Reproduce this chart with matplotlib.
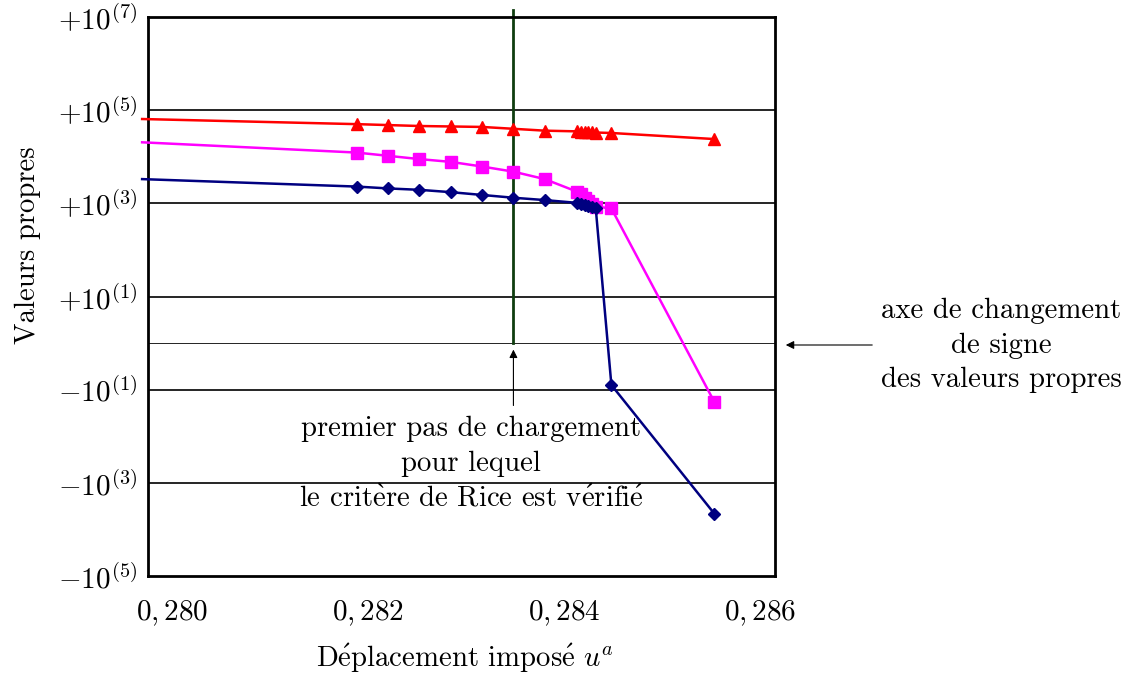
import matplotlib.pyplot as plt

plt.rcParams['font.family'] = ['cmr10', 'DejaVu Serif']
plt.rcParams['mathtext.fontset'] = 'cm'
plt.rcParams['axes.unicode_minus'] = False

# imposed displacement (first value lies just left of the frame, no marker)
u = [0.27969, 0.28188, 0.2822, 0.28252, 0.28284, 0.28316, 0.28348, 0.2838,
     0.28413, 0.28417, 0.28421, 0.28424, 0.28428, 0.28432, 0.28448, 0.28553]

# eigenvalues, stored as sign(v) * log10(|v|)
val_red = [4.81, 4.70, 4.68, 4.66, 4.65, 4.64, 4.60, 4.56,
           4.545, 4.54, 4.535, 4.53, 4.525, 4.52, 4.51, 4.38]
val_pink = [4.31, 4.09, 4.02, 3.95, 3.89, 3.79, 3.68, 3.52,
            3.25, 3.19, 3.12, 3.06, 2.99, 2.93, 2.89, -1.26]
val_blue = [3.52, 3.36, 3.32, 3.29, 3.24, 3.18, 3.12, 3.07,
            3.01, 2.99, 2.97, 2.95, 2.93, 2.90, -0.90, -3.66]

u_rice = 0.28348

y_ticks = [7, 5, 3, 1, -1, -3, -5]
y_labels = ['$+10^{(7)}$', '$+10^{(5)}$', '$+10^{(3)}$', '$+10^{(1)}$',
            '$-10^{(1)}$', '$-10^{(3)}$', '$-10^{(5)}$']
x_ticks = [0.280, 0.282, 0.284, 0.286]
x_labels = ['$0,280$', '$0,282$', '$0,284$', '$0,286$']

fig = plt.figure(figsize=(11.28, 6.75), dpi=100)
ax = fig.add_axes([148 / 1128, 1 - 576 / 675, 627 / 1128, 559 / 675])

ax.set_xlim(0.27975, 0.28615)
ax.set_ylim(-5, 7)

for t in [5, 3, 1, -1, -3]:
    ax.axhline(t, color='black', lw=1.2, zorder=1)
ax.axhline(0, color='black', lw=0.6, zorder=1)

marks = list(range(1, len(u)))
ax.plot(u, val_red, color='#ff0000', lw=1.8, marker='^', markersize=9,
        markevery=marks, clip_on=False, zorder=3)
ax.plot(u, val_pink, color='#ff00ff', lw=1.8, marker='s', markersize=8,
        markevery=marks, clip_on=False, zorder=3)
ax.plot(u, val_blue, color='#000080', lw=1.8, marker='D', markersize=6,
        markevery=marks, clip_on=False, zorder=3)

ax.plot([u_rice, u_rice], [0, 7.15], color='#0f3d0f', lw=2, clip_on=False, zorder=2)

ax.set_yticks(y_ticks)
ax.set_yticklabels(y_labels, fontsize=21)
ax.set_xticks(x_ticks)
ax.set_xticklabels(x_labels, fontsize=21)
ax.tick_params(axis='y', length=0, pad=8)
ax.tick_params(axis='x', length=0, pad=16)
for s in ax.spines.values():
    s.set_linewidth(2)

fs = 20.7
fig.text(28 / 1128, 1 - 245 / 675, 'Valeurs propres', rotation=90,
         ha='center', va='center', fontsize=fs)
fig.text(465 / 1128, 1 - 658 / 675,
         r'D$\acute{\mathrm{e}}$placement impos$\acute{\mathrm{e}}$ $u^a$',
         ha='center', va='center', fontsize=fs)

# annotation: first load step satisfying Rice criterion
ax.annotate('', xy=(u_rice, -0.08), xytext=(u_rice, -1.4),
            arrowprops=dict(arrowstyle='-|>', color='black', lw=0.8,
                            mutation_scale=12))
lines_rice = ['premier pas de chargement', 'pour lequel',
              r'le crit$\grave{\mathrm{e}}$re de Rice est v$\acute{\mathrm{e}}$rifi$\acute{\mathrm{e}}$']
for i, txt in enumerate(lines_rice):
    fig.text(471 / 1128, 1 - (429 + 35 * i) / 675, txt, ha='center',
             va='center', fontsize=fs)

# annotation: sign change axis
ax.annotate('', xy=(783 / 1128, 1 - 345 / 675), xycoords='figure fraction',
            xytext=(875 / 1128, 1 - 345 / 675), textcoords='figure fraction',
            arrowprops=dict(arrowstyle='-|>', color='black', lw=0.8,
                            mutation_scale=12))
lines_axe = ['axe de changement', 'de signe', 'des valeurs propres']
for i, txt in enumerate(lines_axe):
    fig.text(1001 / 1128, 1 - (311 + 34.5 * i) / 675, txt, ha='center',
             va='center', fontsize=fs)

fig.savefig('out.png', dpi=100)
